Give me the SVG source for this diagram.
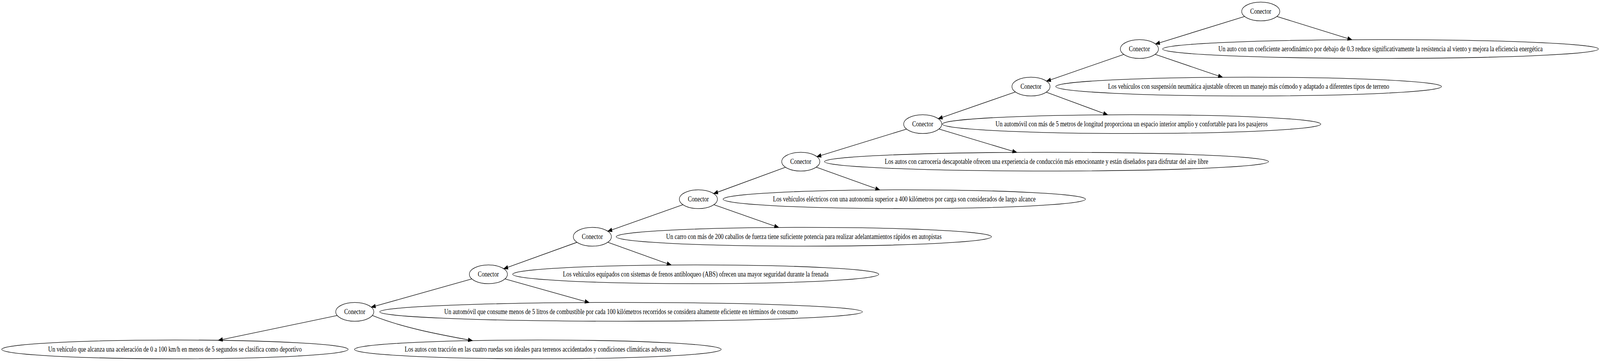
<svg xmlns="http://www.w3.org/2000/svg" width="5209" height="923" viewBox="0 0 5209 923" preserveAspectRatio="none">
<style>
svg{width:100vw;height:100vh}
.n ellipse{fill:none;stroke:#000;stroke-width:1.33}
.n text{font-family:"Liberation Serif","Times New Roman",serif;font-size:18.67px;text-anchor:middle;fill:#000}
#edges path{fill:none;stroke:#000;stroke-width:1.33;marker-end:url(#arr)}
</style>
<defs>
<marker id="arr" markerUnits="userSpaceOnUse" markerWidth="16" markerHeight="12" refX="13.33" refY="6" orient="auto" overflow="visible">
<path d="M0,1.33 L13.33,6 L0,10.67 Z" fill="#000" stroke="#000" stroke-width="1.33"/>
</marker>
</defs>
<rect width="5209" height="923" fill="#fff"/>
<g id="edges">
<path d="M4051.99,42.09 L3762.01,112.57"/>
<path d="M4156.98,42.11 L4401,101.54"/>
<path d="M3658.77,139.13 L3407.23,207.53"/>
<path d="M3760.54,138.96 L3980,197.55"/>
<path d="M3305.79,235.14 L3054.71,303.52"/>
<path d="M3406.16,235.7 L3606,293.52"/>
<path d="M2951.42,330.05 L2659.58,400.61"/>
<path d="M3056.94,329.82 L3310,389.55"/>
<path d="M2557.26,427.66 L2323.44,495"/>
<path d="M2657.17,427.43 L2864,485.55"/>
<path d="M2223.35,523.33 L1978.85,591.33"/>
<path d="M2324.16,523.28 L2535,581.55"/>
<path d="M1878.49,619.51 L1640.01,687.15"/>
<path d="M1978.64,619.45 L2185,677.55"/>
<path d="M1536.14,713.22 L1208.86,785.44"/>
<path d="M1643.89,713.19 L1918,773.54"/>
<path d="M1097.91,806.69 L711,870.1"/>
<path d="M1212.5,806.7 C1312.5,838.7 1438,856.4 1538,870.91"/>
</g>
<g id="c1" class="n"><ellipse cx="4104.5" cy="29.33" rx="62" ry="24"/><text x="4104.5" y="34.93">Conector</text></g>
<g id="c2" class="n"><ellipse cx="3709.5" cy="125.33" rx="62" ry="24"/><text x="3709.5" y="130.93">Conector</text></g>
<g id="e1" class="n"><ellipse cx="4494.5" cy="125.33" rx="709.5" ry="24"/><text x="4494.5" y="130.93">Un auto con un coeficiente aerodinámico por debajo de 0.3 reduce significativamente la resistencia al viento y mejora la eficiencia energética</text></g>
<g id="c3" class="n"><ellipse cx="3356.5" cy="221.33" rx="62" ry="24"/><text x="3356.5" y="226.93">Conector</text></g>
<g id="e2" class="n"><ellipse cx="4065" cy="221.33" rx="628" ry="24"/><text x="4065" y="226.93">Los vehículos con suspensión neumática ajustable ofrecen un manejo más cómodo y adaptado a diferentes tipos de terreno</text></g>
<g id="c4" class="n"><ellipse cx="3004" cy="317.33" rx="62" ry="24"/><text x="3004" y="322.93">Conector</text></g>
<g id="e3" class="n"><ellipse cx="3684" cy="317.33" rx="616" ry="24"/><text x="3684" y="322.93">Un automóvil con más de 5 metros de longitud proporciona un espacio interior amplio y confortable para los pasajeros</text></g>
<g id="c5" class="n"><ellipse cx="2607" cy="413.33" rx="62" ry="24"/><text x="2607" y="418.93">Conector</text></g>
<g id="e4" class="n"><ellipse cx="3407" cy="413.33" rx="723" ry="24"/><text x="3407" y="418.93">Los autos con carrocería descapotable ofrecen una experiencia de conducción más emocionante y están diseñados para disfrutar del aire libre</text></g>
<g id="c6" class="n"><ellipse cx="2273.7" cy="509.33" rx="62" ry="24"/><text x="2273.7" y="514.93">Conector</text></g>
<g id="e5" class="n"><ellipse cx="2944" cy="509.33" rx="590" ry="24"/><text x="2944" y="514.93">Los vehículos eléctricos con una autonomía superior a 400 kilómetros por carga son considerados de largo alcance</text></g>
<g id="c7" class="n"><ellipse cx="1928.5" cy="605.33" rx="62" ry="24"/><text x="1928.5" y="610.93">Conector</text></g>
<g id="e6" class="n"><ellipse cx="2617" cy="605.33" rx="611" ry="24"/><text x="2617" y="610.93">Un carro con más de 200 caballos de fuerza tiene suficiente potencia para realizar adelantamientos rápidos en autopistas</text></g>
<g id="c8" class="n"><ellipse cx="1590" cy="701.33" rx="62" ry="24"/><text x="1590" y="706.93">Conector</text></g>
<g id="e7" class="n"><ellipse cx="2265" cy="701.33" rx="596" ry="24"/><text x="2265" y="706.93">Los vehículos equipados con sistemas de frenos antibloqueo (ABS) ofrecen una mayor seguridad durante la frenada</text></g>
<g id="c9" class="n"><ellipse cx="1155" cy="797.33" rx="62" ry="24"/><text x="1155" y="802.93">Conector</text></g>
<g id="e8" class="n"><ellipse cx="2022" cy="797.33" rx="786" ry="24"/><text x="2022" y="802.93">Un automóvil que consume menos de 5 litros de combustible por cada 100 kilómetros recorridos se considera altamente eficiente en términos de consumo</text></g>
<g id="e9" class="n"><ellipse cx="569.5" cy="893.33" rx="564" ry="24"/><text x="569.5" y="898.93">Un vehículo que alcanza una aceleración de 0 a 100 km/h en menos de 5 segundos se clasifica como deportivo</text></g>
<g id="e10" class="n"><ellipse cx="1751" cy="893.33" rx="597" ry="24"/><text x="1751" y="898.93">Los autos con tracción en las cuatro ruedas son ideales para terrenos accidentados y condiciones climáticas adversas</text></g>
</svg>
